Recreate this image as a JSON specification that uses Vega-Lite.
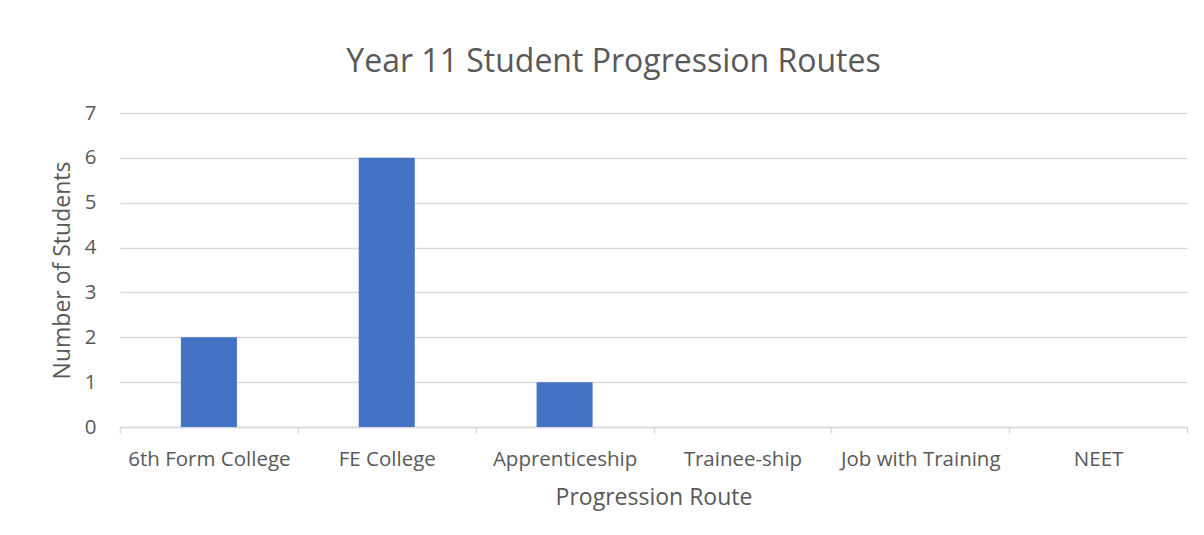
{
  "$schema": "https://vega.github.io/schema/vega-lite/v6.json",
  "width": 1067,
  "height": 314,
  "autosize": {"type": "none"},
  "padding": {"left": 120, "top": 113, "right": 17, "bottom": 108},
  "background": "white",
  "title": {
    "text": "Year 11 Student Progression Routes",
    "font": "Open Sans",
    "fontSize": 32,
    "fontWeight": "normal",
    "color": "#595959",
    "anchor": "middle",
    "dx": -40,
    "offset": 24
  },
  "data": {
    "values": [
      {"route": "6th Form College", "students": 2},
      {"route": "FE College", "students": 6},
      {"route": "Apprenticeship", "students": 1},
      {"route": "Trainee-ship", "students": 0},
      {"route": "Job with Training", "students": 0},
      {"route": "NEET", "students": 0}
    ]
  },
  "mark": {"type": "bar", "color": "#4472c4", "width": {"band": 0.315}},
  "encoding": {
    "x": {
      "field": "route",
      "type": "nominal",
      "sort": null,
      "title": "Progression Route",
      "scale": {"paddingInner": 0, "paddingOuter": 0},
      "axis": {
        "labelAngle": 0,
        "labelFont": "Open Sans",
        "labelFontSize": 20.5,
        "labelColor": "#595959",
        "labelPadding": 16,
        "titleFont": "Open Sans",
        "titleFontSize": 23,
        "titleFontWeight": "normal",
        "titleColor": "#595959",
        "titlePadding": 17,
        "domainColor": "#d9d9d9",
        "domainWidth": 1.5,
        "tickColor": "#d9d9d9",
        "tickWidth": 1.5,
        "tickSize": 6,
        "tickBand": "extent",
        "grid": false
      }
    },
    "y": {
      "field": "students",
      "type": "quantitative",
      "title": "Number of Students",
      "scale": {"domain": [0, 7], "nice": false},
      "axis": {
        "values": [0, 1, 2, 3, 4, 5, 6, 7],
        "labelOverlap": false,
        "labelFont": "Open Sans",
        "labelFontSize": 20.5,
        "labelColor": "#595959",
        "labelPadding": 24,
        "titleFont": "Open Sans",
        "titleFontSize": 23,
        "titleFontWeight": "normal",
        "titleColor": "#595959",
        "titlePadding": 10,
        "domain": false,
        "ticks": false,
        "gridColor": "#d9d9d9",
        "gridWidth": 1.5
      }
    }
  },
  "config": {"view": {"stroke": null}}
}
